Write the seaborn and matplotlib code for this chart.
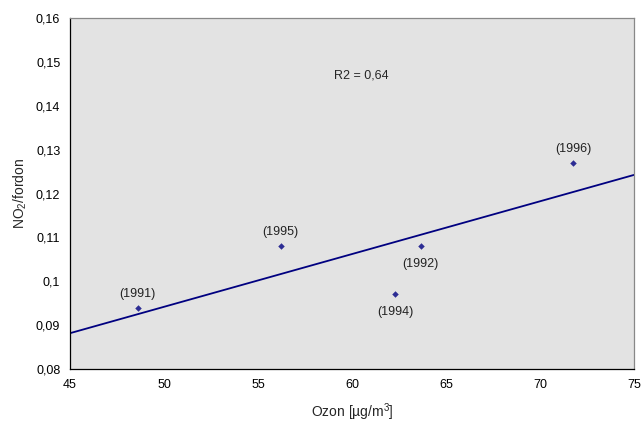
import matplotlib
matplotlib.use("Agg")

import matplotlib.pyplot as plt
import seaborn as sns
import pandas as pd
from matplotlib.ticker import FuncFormatter, MultipleLocator

years = ["(1991)", "(1992)", "(1994)", "(1995)", "(1996)"]
ozon = [48.6, 63.65, 62.3, 56.2, 71.75]
no2_per_vehicle = [0.094, 0.108, 0.097, 0.108, 0.127]
label_above = [True, False, False, True, True]

df = pd.DataFrame({"ozon": ozon, "no2": no2_per_vehicle, "year": years})

sns.set_style("white")
plt.rcParams["font.family"] = ["Liberation Sans", "DejaVu Sans"]
plt.rcParams["mathtext.fontset"] = "custom"
plt.rcParams["mathtext.rm"] = "Liberation Sans"
plt.rcParams["mathtext.it"] = "Liberation Sans"
plt.rcParams["font.size"] = 9

navy = "#000080"

fig = plt.figure(figsize=(6.42, 4.22), dpi=100)
ax = fig.add_axes([0.109, 0.1256, 0.8785, 0.8317])
ax.set_facecolor("#e3e3e3")

ax.set_xlim(45, 75)
ax.set_ylim(0.08, 0.16)

sns.regplot(data=df, x="ozon", y="no2", ax=ax, ci=None, truncate=False,
            color=navy, marker="D",
            scatter_kws={"s": 11, "linewidths": 0, "zorder": 3},
            line_kws={"linewidth": 1.3})

for xv, yv, lab, above in zip(ozon, no2_per_vehicle, years, label_above):
    dy = 10 if above else -13
    ax.annotate(lab, (xv, yv), xytext=(0, dy), textcoords="offset points",
                ha="center", va="center", fontsize=9, color="#222222")

ax.text(60.5, 0.147, "R2 = 0,64", ha="center", va="center", fontsize=9)

ax.xaxis.set_major_locator(MultipleLocator(5))
ax.yaxis.set_major_locator(MultipleLocator(0.01))
ax.yaxis.set_major_formatter(FuncFormatter(
    lambda v, p: f"{v:.2f}".rstrip("0").replace(".", ",")))

ax.tick_params(axis="both", direction="inout", length=6, width=0.8,
               colors="black", labelsize=9, pad=4)
ax.tick_params(axis="x", pad=4)
ax.set_xlim(45, 75)
ax.set_ylim(0.08, 0.16)

for side in ["left", "bottom"]:
    ax.spines[side].set_color("black")
    ax.spines[side].set_linewidth(0.9)
for side in ["top", "right"]:
    ax.spines[side].set_visible(True)
    ax.spines[side].set_color("#888888")
    ax.spines[side].set_linewidth(0.9)

ax.set_xlabel(r"Ozon [µg/m$^3$]", fontsize=10, labelpad=8)
ax.set_ylabel(r"NO$_2$/fordon", fontsize=10, labelpad=5)

fig.savefig("out.png", dpi=100, facecolor="white")
